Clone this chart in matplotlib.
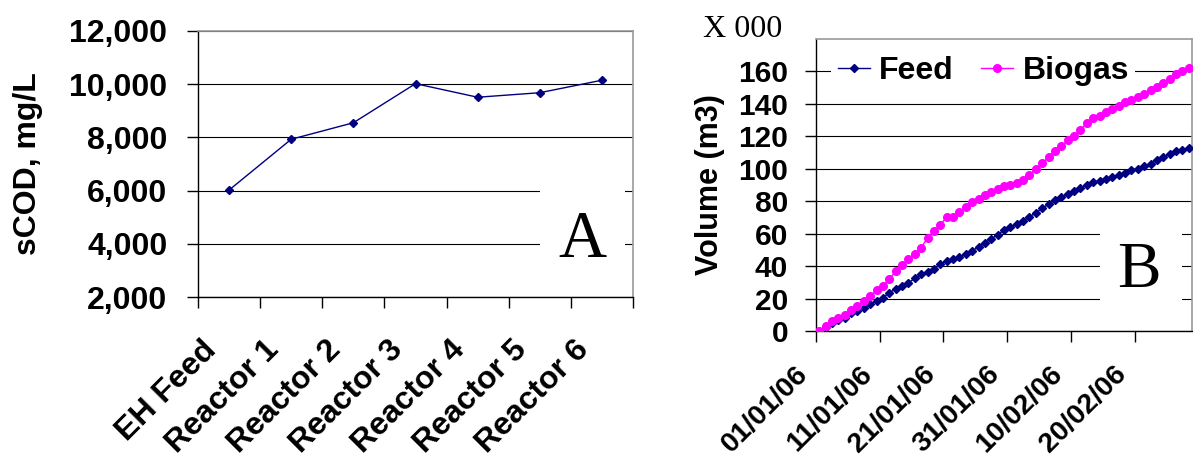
import numpy as np
import matplotlib
matplotlib.use('Agg')
import matplotlib.pyplot as plt
import matplotlib.transforms as mtransforms
from matplotlib.patches import Rectangle

# panel A: soluble COD by sample
samples = ['EH Feed', 'Reactor 1', 'Reactor 2', 'Reactor 3', 'Reactor 4', 'Reactor 5', 'Reactor 6']
scod = [6020, 7930, 8550, 10020, 9510, 9680, 10150]

# panel B: cumulative volumes (x 000 m3), one value per day from 01/01/06
date_labels = ['01/01/06', '11/01/06', '21/01/06', '31/01/06', '10/02/06', '20/02/06']
feed = [0, 2.7, 5.1, 6.8, 8.2, 10.9, 12.3, 13.9, 16.6, 18.5, 20.5, 23.6, 26, 27.9, 29.7,
        32.4, 34.9, 36.3, 38.4, 41, 43.1, 44.1, 45.7, 47.4, 49.4, 51.9, 54.4, 56.8, 59.3,
        62.2, 64.2, 66, 68.1, 70.4, 72.8, 75.7, 78.2, 81, 82.7, 84.7, 86.4, 88.2, 90.3,
        91.9, 92.5, 93.9, 95, 96.4, 97.6, 99.1, 100.1, 101.7, 103.2, 105.2, 107.3, 109.3,
        111, 111.8, 113]
biogas = [0, 3, 6, 8, 10, 13, 15.6, 18.5, 21.7, 25, 28, 32, 36.7, 40.6, 44.3, 47.6, 51.3,
          57.4, 61.5, 65.4, 70.2, 70, 73.4, 76.5, 79.6, 81.4, 84.1, 85.7, 87.4, 89.4, 90,
          91.5, 93, 96.4, 99.7, 103.6, 107, 111, 114, 117.5, 120.4, 124, 128, 131, 132.3,
          134.8, 136.6, 138.5, 141, 142.4, 144.4, 146.3, 148.3, 150.4, 152.8, 155.3, 158.4,
          160.2, 162]

plt.rcParams['font.family'] = ['Liberation Sans', 'DejaVu Sans']
plt.rcParams['font.weight'] = 'bold'

W, H = 1193, 476
fig = plt.figure(figsize=(W / 100, H / 100), dpi=100)

navy = '#000080'
pink = '#ff00ff'


def style_axes(ax):
    ax.set_axisbelow(True)
    ax.grid(axis='y', color='black', lw=0.8)
    ax.grid(axis='x', visible=False)
    for s in ['left', 'bottom']:
        ax.spines[s].set_color('black')
        ax.spines[s].set_linewidth(1)
    for s in ['top', 'right']:
        ax.spines[s].set_color('#9a9a9a')
        ax.spines[s].set_linewidth(1.2)
    ax.tick_params(axis='both', which='major', direction='out', length=8, width=1, color='black')


def shift(labels, dx, dy):
    # move rotated labels by pixel offsets
    off = mtransforms.ScaledTranslation(dx / 100, dy / 100, fig.dpi_scale_trans)
    for lab in labels:
        lab.set_transform(lab.get_transform() + off)


# ---- panel A ----
axA = fig.add_axes([198 / W, 1 - 297 / H, (633 - 198) / W, (297 - 31) / H])
style_axes(axA)
xa = np.arange(len(samples)) + 0.5
axA.plot(xa, scod, color=navy, lw=1, marker='D', ms=4, zorder=4)
axA.set_xlim(0, len(samples))
axA.set_ylim(2000, 12000)
axA.set_yticks(np.arange(2000, 12001, 2000))
axA.set_yticklabels([f'{v:,}' for v in range(2000, 12001, 2000)], fontsize=23, fontweight='bold')
axA.tick_params(axis='y', pad=14)
axA.set_xticks(np.arange(len(samples) + 1))
axA.set_xticklabels([])
axA.set_xticks(xa, minor=True)
axA.set_xticklabels(samples, minor=True, rotation=45, ha='right', va='top',
                    rotation_mode='anchor', fontsize=23, fontweight='bold')
axA.tick_params(axis='x', which='minor', length=0, pad=0)
shift(axA.get_xticklabels(minor=True), -28, -38)
axA.set_ylabel('sCOD, mg/L', fontsize=23, fontweight='bold')
axA.yaxis.set_label_coords(-0.356, 0.5)
axA.add_patch(Rectangle((0.786, 0.03), 0.196, 0.52, transform=axA.transAxes,
                        facecolor='white', edgecolor='none', zorder=2))
axA.text(0.883, 0.214, 'A', transform=axA.transAxes, ha='center', va='center',
         family='Liberation Serif', fontweight='normal', fontsize=48, zorder=3)

# ---- panel B ----
axB = fig.add_axes([816 / W, 1 - 331 / H, (1192 - 816) / W, (331 - 39) / H])
style_axes(axB)
xb = np.arange(len(feed)) + 0.5
axB.plot(xb, feed, color=navy, lw=1, marker='D', ms=4, label='Feed', zorder=4)
axB.plot(xb, biogas, color=pink, lw=1, marker='o', ms=5.5, label='Biogas', zorder=4)
axB.set_xlim(0, len(feed))
axB.set_ylim(0, 180)
axB.set_yticks(np.arange(0, 161, 20))
axB.tick_params(axis='y', labelsize=21.5, pad=12)
axB.set_xticks(np.arange(0, 51, 10))
axB.set_xticklabels(date_labels, rotation=45, ha='right', va='top',
                    rotation_mode='anchor', fontsize=20.5, fontweight='bold')
axB.tick_params(axis='x', pad=0)
shift(axB.get_xticklabels(), -21, -19)
for lab in axB.get_yticklabels():
    lab.set_fontweight('bold')
axB.set_ylabel('Volume (m3)', fontsize=22, fontweight='bold')
axB.yaxis.set_label_coords(-0.242, 0.5)
axB.add_patch(Rectangle((0.755, 0.02), 0.218, 0.39, transform=axB.transAxes,
                        facecolor='white', edgecolor='none', zorder=2))
axB.text(0.859, 0.205, 'B', transform=axB.transAxes, ha='center', va='center',
         family='Liberation Serif', fontweight='normal', fontsize=47, zorder=3)
leg = axB.legend(loc='center', bbox_to_anchor=(0.445, 0.89), ncol=2, fontsize=23,
                 frameon=True, fancybox=False, framealpha=1, edgecolor='none',
                 handlelength=1.0, handletextpad=0.3, columnspacing=0.85,
                 borderpad=0.2, markerscale=1)
for t in leg.get_texts():
    t.set_fontweight('bold')
leg.set_zorder(5)

fig.text(703 / W, 1 - 37 / H, 'X 000', family='Liberation Serif', fontweight='normal',
         fontsize=23, ha='left', va='baseline')

fig.savefig('out.png', dpi=100)
